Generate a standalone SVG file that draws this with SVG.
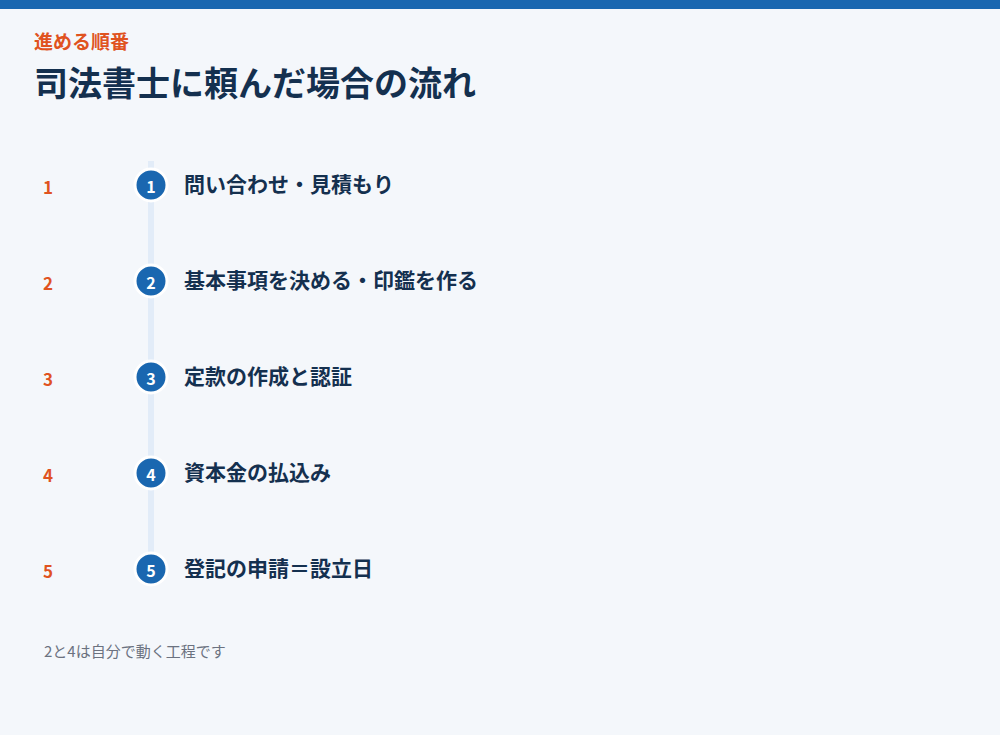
<svg xmlns="http://www.w3.org/2000/svg" width="1000" height="735" viewBox="0 0 1000 735">
<style>
text{font-family:"Noto Sans CJK JP","Noto Sans",sans-serif}
.idx{font-size:17px;font-weight:700;fill:#e0531f}
.lbl{font-size:21px;font-weight:700;fill:#14304f}
.num{font-size:16px;font-weight:700;fill:#ffffff;text-anchor:middle}
.dot{fill:#1a67b0;stroke:#ffffff;stroke-width:3}
</style>
<rect width="1000" height="735" fill="#f4f7fb"/>
<rect width="1000" height="9" fill="#1a67b0"/>
<text x="34" y="49" font-size="19" font-weight="700" fill="#e0531f">進める順番</text>
<text x="34" y="96" font-size="34" font-weight="700" fill="#14304f">司法書士に頼んだ場合の流れ</text>
<g id="connectors">
<rect x="148" y="161" width="6" height="420" fill="#e2ecf8"/>
</g>
<g id="step1"><text class="idx" x="43" y="194">1</text><circle class="dot" cx="151" cy="185" r="16"/><text class="num" x="151" y="193">1</text><text class="lbl" x="184" y="192">問い合わせ・見積もり</text></g>
<g id="step2"><text class="idx" x="43" y="290">2</text><circle class="dot" cx="151" cy="281" r="16"/><text class="num" x="151" y="289">2</text><text class="lbl" x="184" y="288">基本事項を決める・印鑑を作る</text></g>
<g id="step3"><text class="idx" x="43" y="386">3</text><circle class="dot" cx="151" cy="377" r="16"/><text class="num" x="151" y="385">3</text><text class="lbl" x="184" y="384">定款の作成と認証</text></g>
<g id="step4"><text class="idx" x="43" y="482">4</text><circle class="dot" cx="151" cy="473" r="16"/><text class="num" x="151" y="481">4</text><text class="lbl" x="184" y="480">資本金の払込み</text></g>
<g id="step5"><text class="idx" x="43" y="578">5</text><circle class="dot" cx="151" cy="569" r="16"/><text class="num" x="151" y="577">5</text><text class="lbl" x="184" y="576">登記の申請＝設立日</text></g>
<text x="44" y="657" font-size="15" fill="#6b7280">2と4は自分で動く工程です</text>
</svg>
